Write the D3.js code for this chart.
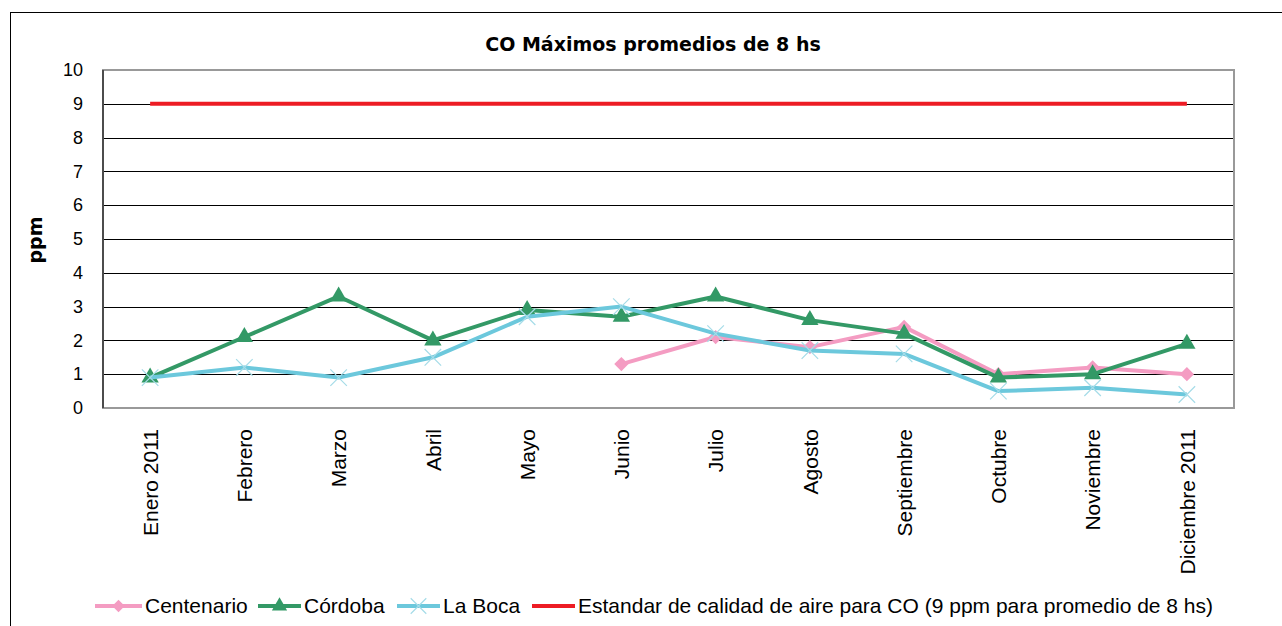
<!DOCTYPE html>
<html>
<head>
<meta charset="utf-8">
<script src="https://cdn.jsdelivr.net/npm/d3@7"></script>
<style>
  body { margin: 0; background: #fff; }
  svg { display: block; }
  .tick text { font-family: "Liberation Sans", Arial, sans-serif; }
</style>
</head>
<body>
<script>
var months = ["Enero 2011", "Febrero", "Marzo", "Abril", "Mayo", "Junio", "Julio",
    "Agosto", "Septiembre", "Octubre", "Noviembre", "Diciembre 2011"];
var centenario = [null, null, null, null, null, 1.3, 2.1, 1.8, 2.4, 1.0, 1.2, 1.0];
var cordoba = [0.9, 2.1, 3.3, 2.0, 2.9, 2.7, 3.3, 2.6, 2.2, 0.9, 1.0, 1.9];
var laBoca = [0.9, 1.2, 0.9, 1.5, 2.7, 3.0, 2.2, 1.7, 1.6, 0.5, 0.6, 0.4];
var estandar = [9, 9, 9, 9, 9, 9, 9, 9, 9, 9, 9, 9];
var yTicks = [0, 1, 2, 3, 4, 5, 6, 7, 8, 9, 10];

var series = [
    { name: "Centenario", values: centenario, color: "#f49cc2", marker: "diamond" },
    { name: "Córdoba", values: cordoba, color: "#339966", marker: "triangle" },
    { name: "La Boca", values: laBoca, color: "#6cc8dc", marker: "cross" },
    { name: "Estandar de calidad de aire para CO (9 ppm para promedio de 8 hs)", values: estandar, color: "#ed1c24", marker: null }
];

var W = 1282, H = 626;
var plot = { left: 103, right: 1234, top: 70, bottom: 408 };

var svg = d3.select("body").append("svg")
    .attr("width", W)
    .attr("height", H);

// outer frame of the chart
svg.append("rect")
    .attr("x", 10.5).attr("y", 12.5)
    .attr("width", W + 10).attr("height", H + 10)
    .attr("fill", "none").attr("stroke", "#000").attr("stroke-width", 1);

var x = d3.scalePoint()
    .domain(months)
    .range([plot.left, plot.right])
    .padding(0.5);

var y = d3.scaleLinear()
    .domain([0, 10])
    .range([plot.bottom, plot.top]);

// horizontal grid
svg.append("g")
    .selectAll("line")
    .data(yTicks.filter(function(d) { return d > 0 && d < 10; }))
    .enter().append("line")
    .attr("x1", plot.left).attr("x2", plot.right)
    .attr("y1", function(d) { return Math.round(y(d)) + 0.5; })
    .attr("y2", function(d) { return Math.round(y(d)) + 0.5; })
    .attr("stroke", "#000").attr("stroke-width", 1);

// plot border
svg.append("rect")
    .attr("x", plot.left).attr("y", plot.top)
    .attr("width", plot.right - plot.left)
    .attr("height", plot.bottom - plot.top)
    .attr("fill", "none").attr("stroke", "#999").attr("stroke-width", 2);

svg.append("line")
    .attr("x1", plot.left).attr("x2", plot.left)
    .attr("y1", plot.top).attr("y2", plot.bottom)
    .attr("stroke", "#333").attr("stroke-width", 1.5);

// y axis
var yAxis = svg.append("g")
    .attr("transform", "translate(" + plot.left + ",0)")
    .call(d3.axisLeft(y).tickValues(yTicks).tickSize(0).tickPadding(20));
yAxis.select(".domain").remove();
yAxis.selectAll("text").attr("font-size", 18).attr("fill", "#000");

// x axis
var xAxis = svg.append("g")
    .attr("transform", "translate(0," + plot.bottom + ")")
    .call(d3.axisBottom(x).tickSize(0).tickPadding(0));
xAxis.select(".domain").remove();
xAxis.selectAll("text")
    .attr("font-size", 21)
    .attr("fill", "#000")
    .attr("text-anchor", "end")
    .attr("transform", "rotate(-90)")
    .attr("x", -21)
    .attr("y", 0)
    .attr("dy", "0.35em");

// title and y label
svg.append("text")
    .attr("x", 653).attr("y", 51)
    .attr("text-anchor", "middle")
    .attr("font-family", "'DejaVu Sans', Verdana, sans-serif")
    .attr("font-weight", "bold")
    .attr("font-size", 19)
    .text("CO Máximos promedios de 8 hs");

svg.append("text")
    .attr("transform", "translate(42,240) rotate(-90)")
    .attr("text-anchor", "middle")
    .attr("font-family", "'DejaVu Sans', Verdana, sans-serif")
    .attr("font-weight", "bold")
    .attr("font-size", 19)
    .text("ppm");

function markerPath(type, size) {
    if (type === "diamond") return d3.symbol().type(d3.symbolDiamond2).size(size)();
    if (type === "triangle") return d3.symbol().type(d3.symbolTriangle).size(size)();
    if (type === "cross") return d3.symbol().type(d3.symbolX).size(size)();
    return null;
}

var line = d3.line()
    .defined(function(d) { return d != null; })
    .x(function(d, i) { return x(months[i]); })
    .y(function(d) { return y(d); });

var order = [3, 0, 1, 2];
order.forEach(function(k) {
    var s = series[k];
    var g = svg.append("g").attr("class", "series");
    g.append("path")
        .datum(s.values)
        .attr("fill", "none")
        .attr("stroke", s.color)
        .attr("stroke-width", 4)
        .attr("stroke-linejoin", "round")
        .attr("d", line);
    if (!s.marker) return;
    g.selectAll("path.pt")
        .data(s.values.map(function(v, i) { return { v: v, m: months[i] }; })
            .filter(function(d) { return d.v != null; }))
        .enter().append("path")
        .attr("class", "pt")
        .attr("transform", function(d) { return "translate(" + x(d.m) + "," + y(d.v) + ")"; })
        .attr("d", markerPath(s.marker, s.marker === "cross" ? 180 : 130))
        .attr("fill", s.marker === "cross" ? "none" : s.color)
        .attr("stroke", s.marker === "cross" ? "#a6dce8" : "none")
        .attr("stroke-width", 1.2);
});

// legend
var legendItems = [
    { lx: 95, tx: 145 },
    { lx: 258, tx: 304 },
    { lx: 397, tx: 443 },
    { lx: 532, tx: 578 }
];
var lg = svg.append("g").attr("class", "legend");
series.forEach(function(s, i) {
    var it = legendItems[i];
    var ly = 606;
    lg.append("line")
        .attr("x1", it.lx).attr("x2", it.tx - 3)
        .attr("y1", ly).attr("y2", ly)
        .attr("stroke", s.color).attr("stroke-width", 4);
    if (s.marker) {
        lg.append("path")
            .attr("transform", "translate(" + ((it.lx + it.tx - 3) / 2) + "," + ly + ")")
            .attr("d", markerPath(s.marker, s.marker === "cross" ? 160 : 100))
            .attr("fill", s.marker === "cross" ? "none" : s.color)
            .attr("stroke", s.marker === "cross" ? "#a6dce8" : "none")
            .attr("stroke-width", 1.2);
    }
    lg.append("text")
        .attr("x", it.tx).attr("y", ly + 7)
        .attr("font-family", "'Liberation Sans', Arial, sans-serif")
        .attr("font-size", 21)
        .text(s.name);
});
</script>
</body>
</html>
